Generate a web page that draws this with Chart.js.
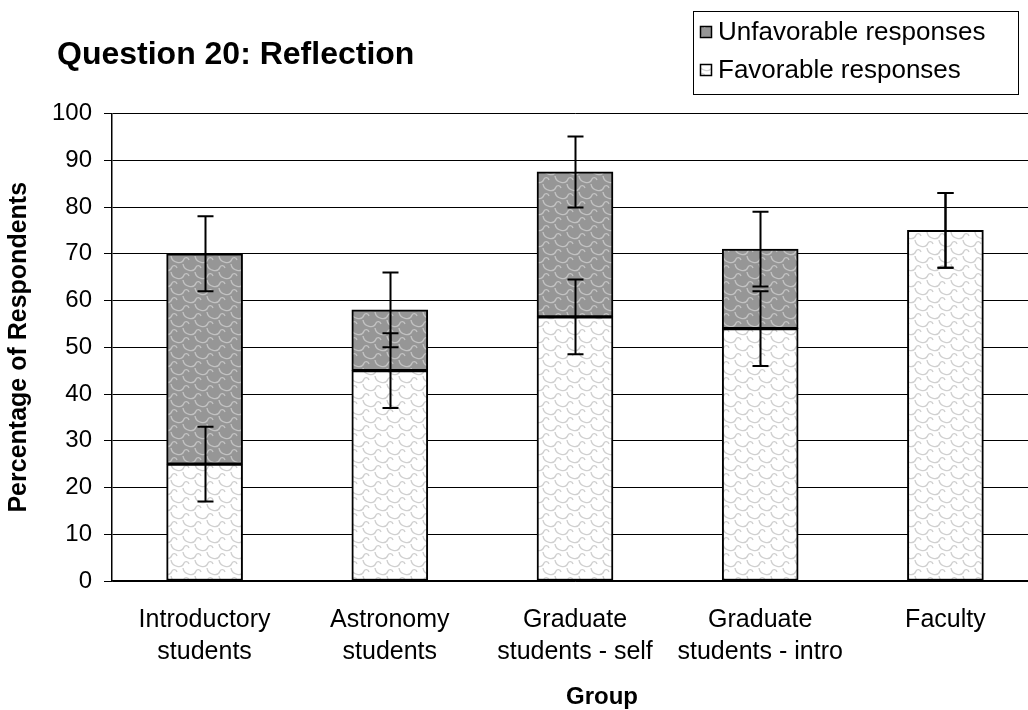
<!DOCTYPE html>
<html lang="en">
	<head>
		<meta charset="UTF-8" />
		<title>Question 20: Reflection</title>
		<script src="https://cdn.jsdelivr.net/npm/chart.js"></script>
		<style>
			html, body { margin: 0; padding: 0; background: #fff; overflow: hidden; }
		</style>
	</head>

	<body>
		<canvas id="myChart" width="1045" height="710"></canvas>
	</body>
	<script>
		const groups = [
			["Introductory", "students"],
			["Astronomy", "students"],
			["Graduate", "students - self"],
			["Graduate", "students - intro"],
			["Faculty"],
		];
		const favorable = [25, 45, 56.5, 54, 75];
		const unfavorable = [45, 13, 31, 17, 0];
		const favorableErr = [8, 8, 8, 8, 8];
		const unfavorableErr = [8, 8, 7.6, 8, 8];
		const yTicks = [0, 10, 20, 30, 40, 50, 60, 70, 80, 90, 100];

		const FONT = "'Liberation Sans', Arial, sans-serif";

		// scale-like texture, roughly what Excel used for these fills
		function makePattern(bg, fg) {
			const c = document.createElement("canvas");
			c.width = 24;
			c.height = 16;
			const g = c.getContext("2d");
			g.fillStyle = bg;
			g.fillRect(0, 0, 24, 16);
			g.strokeStyle = fg;
			g.lineWidth = 1.4;
			const centers = [[12, 0], [0, 8], [24, 8], [12, 16], [0, -8], [24, -8]];
			centers.forEach(([cx, cy]) => {
				g.beginPath();
				g.moveTo(cx - 9, cy);
				g.bezierCurveTo(cx - 8, cy + 7, cx + 2, cy + 9, cx + 4, cy + 3);
				g.bezierCurveTo(cx + 5, cy + 1, cx + 8, cy + 1, cx + 9, cy + 4);
				g.stroke();
			});
			return document.createElement("canvas").getContext("2d").createPattern(c, "repeat");
		}

		const grayFill = makePattern("#969696", "#c2c2c2");
		const whiteFill = makePattern("#ffffff", "#d0d0d0");

		const errorBars = {
			id: "errorBars",
			afterDatasetsDraw(chart) {
				const ctx = chart.ctx;
				const y = chart.scales.y;
				const errs = [favorableErr, unfavorableErr];
				ctx.save();
				ctx.strokeStyle = "#000";
				ctx.lineWidth = 2;
				chart.data.datasets.forEach((ds, i) => {
					const meta = chart.getDatasetMeta(i);
					meta.data.forEach((bar, j) => {
						let top = 0;
						for (let k = 0; k <= i; k++) top += chart.data.datasets[k].data[j];
						const x = Math.round(bar.x) + 0.5;
						const y1 = y.getPixelForValue(top - errs[i][j]);
						const y2 = y.getPixelForValue(top + errs[i][j]);
						ctx.beginPath();
						ctx.moveTo(x, y1);
						ctx.lineTo(x, y2);
						ctx.moveTo(x - 8, y1);
						ctx.lineTo(x + 8, y1);
						ctx.moveTo(x - 8, y2);
						ctx.lineTo(x + 8, y2);
						ctx.stroke();
					});
				});
				ctx.restore();
			},
		};

		const decorations = {
			id: "decorations",
			afterDraw(chart) {
				const ctx = chart.ctx;
				ctx.save();
				ctx.fillStyle = "#000";
				ctx.font = "bold 32px " + FONT;
				ctx.textBaseline = "alphabetic";
				ctx.textAlign = "left";
				ctx.fillText("Question 20: Reflection", 57, 64);

				// x axis title sits a little right of the plot centre in the original
				ctx.font = "bold 24px " + FONT;
				ctx.textAlign = "center";
				ctx.textBaseline = "middle";
				ctx.fillText("Group", 602, 697);

				// legend box
				ctx.strokeStyle = "#000";
				ctx.lineWidth = 1;
				ctx.fillStyle = "#fff";
				ctx.fillRect(693.5, 11.5, 325, 83);
				ctx.strokeRect(693.5, 11.5, 325, 83);
				const items = [
					["Unfavorable responses", grayFill, 32],
					["Favorable responses", whiteFill, 70],
				];
				ctx.font = "26px " + FONT;
				ctx.textAlign = "left";
				items.forEach(([label, fill, cy]) => {
					ctx.fillStyle = fill;
					ctx.fillRect(700, cy - 6, 12, 12);
					ctx.lineWidth = 1.5;
					ctx.strokeRect(700.5, cy - 5.5, 11, 11);
					ctx.fillStyle = "#000";
					ctx.fillText(label, 718, cy + 1);
				});
				ctx.restore();
			},
		};

		const ctx = document.getElementById("myChart");
		const myChart = new Chart(ctx, {
			type: "bar",
			data: {
				labels: groups,
				datasets: [
					{
						label: "Favorable responses",
						data: favorable,
						backgroundColor: whiteFill,
						borderColor: "#000",
						borderWidth: 2,
						borderSkipped: false,
						barThickness: 76,
					},
					{
						label: "Unfavorable responses",
						data: unfavorable,
						backgroundColor: grayFill,
						borderColor: "#000",
						borderWidth: 2,
						borderSkipped: false,
						barThickness: 76,
					},
				],
			},
			options: {
				responsive: false,
				animation: false,
				layout: { padding: { top: 113.5, right: 7, bottom: 0, left: 0 } },
				plugins: {
					legend: { display: false },
					tooltip: { enabled: false },
				},
				scales: {
					x: {
						stacked: true,
						grid: { display: false, drawTicks: false },
						border: { color: "#000", width: 1.5 },
						ticks: {
							color: "#000",
							padding: 23,
							maxRotation: 0,
							font: { family: FONT, size: 25, lineHeight: 1.28 },
						},
						afterFit: (s) => { s.height = 129; },
					},
					y: {
						stacked: true,
						min: 0,
						max: 100,
						afterBuildTicks: (s) => { s.ticks = yTicks.map((v) => ({ value: v })); },
						grid: { color: "#000", lineWidth: 1, tickLength: 8, tickColor: "#000" },
						border: { color: "#000", width: 1.5 },
						ticks: {
							color: "#000",
							padding: 12,
							font: { family: FONT, size: 24 },
						},
						title: {
							display: true,
							text: "Percentage of Respondents",
							color: "#000",
							padding: { top: 4, bottom: 0 },
							font: { family: FONT, size: 25, weight: "bold" },
						},
						afterFit: (s) => { s.width = 112; },
					},
				},
			},
			plugins: [errorBars, decorations],
		});
	</script>
</html>
